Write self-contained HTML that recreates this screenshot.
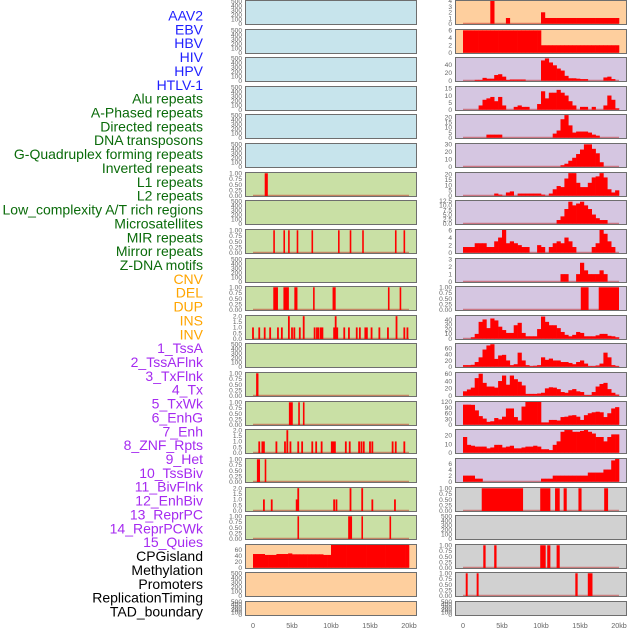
<!DOCTYPE html>
<html><head><meta charset="utf-8"><style>
html,body{margin:0;padding:0;background:#fff;}
svg{display:block;font-family:"Liberation Sans",sans-serif;}
</style></head><body>
<svg id="c" width="630" height="630" viewBox="0 0 630 630"></svg>
<script>
// ---------- labels ----------
const trackLabels = ["AAV2","EBV","HBV","HIV","HPV","HTLV-1","Alu repeats","A-Phased repeats","Directed repeats","DNA transposons","G-Quadruplex forming repeats","Inverted repeats","L1 repeats","L2 repeats","Low_complexity A/T rich regions","Microsatellites","MIR repeats","Mirror repeats","Z-DNA motifs","CNV","DEL","DUP","INS","INV","1_TssA","2_TssAFlnk","3_TxFlnk","4_Tx","5_TxWk","6_EnhG","7_Enh","8_ZNF_Rpts","9_Het","10_TssBiv","11_BivFlnk","12_EnhBiv","13_ReprPC","14_ReprPCWk","15_Quies","CPGisland","Methylation","Promoters","ReplicationTiming","TAD_boundary"];
const labelGroups = ["v","v","v","v","v","v","r","r","r","r","r","r","r","r","r","r","r","r","r","s","s","s","s","s","c","c","c","c","c","c","c","c","c","c","c","c","c","c","c","o","o","o","o","o"];
const xTickLabels = ["0","5kb","10kb","15kb","20kb"];
const xTickValues = [0,5,10,15,20];

// ---------- left column (spans in kb) ----------
const leftL1 = [[1.5,1.9]];
const leftMIR = [[2.6,2.8],[3.9,4.1],[4.5,4.7],[5.6,5.8],[7.5,7.7],[10.9,11.1],[12.4,12.6],[14.0,14.2],[18.2,18.4],[19.3,19.5]];
const leftDEL = [[2.6,3.2],[3.9,4.6],[5.3,5.7],[7.7,7.9],[10.2,10.6],[17.3,17.5],[18.8,19.0]];
const leftINSpos = [0.0,0.8,1.5,2.2,3.2,3.7,4.6,5.0,5.3,6.0,6.5,7.9,8.2,8.4,8.7,8.9,10.4,10.6,10.8,11.7,12.3,13.3,13.7,14.4,14.6,15.2,16.2,17.3,18.4,19.4,19.8];
const leftINSval = [1,1,1,1,1,1,2,1,1,1,2,1,1,1,1,1,1,2,1,1,1,1,1,1,1,1,1,1,2,1,1];
const leftTxFlnk = [[0.4,0.7]];
const leftTxWk = [[4.6,5.1],[5.8,6.0],[6.4,6.6]];
const leftEnhPos = [0.8,1.2,1.4,3.0,4.1,4.4,4.8,5.8,6.3,7.6,8.1,8.8,10.1,10.3,10.5,11.9,12.4,13.6,13.9,14.2,15.0,15.3,17.9,18.3,19.4];
const leftEnhVal = [1,1,1,1,1,2,1,1,1,1,1,1,1,1,1,1,1,1,1,1,1,1,1,1,1];
const leftHet = [[0.5,0.9],[1.5,1.7]];
const leftBivPos = [1.4,2.4,5.6,5.8,10.4,10.7,12.5,14.0,15.3,18.2];
const leftBivVal = [1,1,1,2,1,1,2,2,1,1];
const leftReprPC = [[5.7,5.9],[12.2,12.7],[13.9,14.1],[17.5,17.7]];
const leftCPG = [45,45,45,42,42,42,45,45,45,47,44,44,44,44,44,44,44,44,42,42,75,75,75,75,75,75,75,75,75,75,75,75,75,75,75,75,75,75,75,75];

// ---------- right column (0.5 kb bins) ----------
const rightAAV2 = [0,0,0,0,0,0,0,4,0,0,0,1,0,0,0,0,0,0,0,0,2,1,1,1,1,1,1,1,1,1,1,1,1,1,1,1,1,1,1,1];
const rightEBV = [6,6,6,6,6,6,6,6,6,6,6,6,6,6,6,6,6,6,6,6,2,2,2,2,2,2,2,2,2,2,2,2,2,2,2,2,2,2,2,2];
const rightHIV = [0,0,0,2,2,7,5,5,14,16,10,2,3,3,3,3,0,0,0,0,50,55,45,38,30,25,12,6,6,5,4,4,0,0,0,0,8,10,4,0];
const rightAlu = [0,0,0,0,3,7,8,9,6,9,3,0,0,2,3,2,2,0,0,4,13,8,12,12,14,12,10,6,3,0,2,2,0,2,0,0,3,10,7,1];
const rightDirected = [0,0,0,0,0,0,3,3,3,3,0,0,0,0,0,0,0,0,0,0,0,0,0,4,7,18,22,12,5,6,6,6,5,3,2,0,0,0,0,0];
const rightGQuad = [0,0,0,0,0,0,0,0,0,0,0,0,0,0,0,0,0,0,0,0,0,0,0,0,0,2,4,8,12,17,23,30,30,24,18,6,0,0,0,0];
const rightInverted = [0,0,0,0,0,0,0,0,2,1,0,3,4,0,2,2,2,2,2,2,1,0,2,6,9,8,16,21,21,12,8,8,12,17,18,21,17,6,3,5];
const rightLowComp = [0,0,0,0,0,0,0,0,0,0,0,0,0,0,0,0,0,0,0,0,0,0,0,0,2,4,8,12,10,11,12,10,8,5,3,2,2,0,0,0];
const rightMIR = [1.5,1.5,1.5,2.5,2.5,2.5,1.5,1.5,3,4,6,2.5,3,2.5,2,1.5,1.5,0,0,2,1.5,0,1.5,2.5,3,2.5,4,3,1.5,0,0,0,0,1.5,2.5,6,5,3,1.5,0];
const rightZDNA = [0,0,0,0,0,0,0,0,0,0,0,0,0,0,0,0,0,0,0,0,0,0,0,0,0,1,1,0,0,1,2.5,1.5,1,1,1,1.5,1,0,0,0];
const rightDEL = [[15.1,16.1],[17.4,20.0]];
const rightINS = [0,0,3,10,35,40,22,42,38,25,18,12,12,28,33,12,5,5,5,20,46,35,28,28,22,14,8,5,8,14,12,5,5,5,7,10,10,6,5,3];
const rightTssA = [5,5,6,15,30,55,68,72,25,36,38,20,5,8,45,20,5,2,3,5,30,22,26,20,20,15,15,12,8,15,20,10,2,2,4,10,45,30,5,2];
const rightTxFlnk = [12,17,22,48,60,35,25,25,22,40,55,30,55,45,38,28,5,5,5,6,8,20,23,22,18,10,8,15,18,12,10,2,2,10,25,32,35,18,8,3];
const rightTxWk = [105,105,104,75,45,32,15,18,35,28,42,85,85,40,22,95,120,120,120,120,12,12,25,25,22,40,42,48,50,42,25,50,60,65,68,65,40,60,85,92];
const rightEnh = [18,9,8,7,7,7,5,6,9,9,6,7,8,5,5,6,7,7,8,7,4,4,3,9,13,24,26,26,24,24,25,26,24,22,18,18,13,18,21,21];
const rightHet = [2,2,2,1,1,0,0,0,0,0,0,0,0,0,0,0,0,0,0,0,1,1,1,2,2,2,2,2,2,2,2,2,3,3,3,3,4,4,7,7.5];
const rightBivFlnk = [[2.4,7.7],[9.9,11.2],[11.8,12.4],[12.9,13.3],[14.8,15.2],[18.1,18.6]];
const rightCPG = [[2.6,2.9],[4.0,4.3],[9.9,10.6],[10.8,11.2],[12.0,12.4]];
const rightPromoters = [[0.35,0.6],[1.75,2.0],[14.4,14.7],[16.0,16.6]];

// ---------- tick sets ----------
const tEmpty = [0,100,200,300,400,500];
const tBin = [0,0.25,0.5,0.75,1];
const tTwo = [0,0.5,1,1.5,2];

const BLUE="#c7e4ec", GREEN="#c9e0a5", ORANGE="#fecf9e", PURPLE="#d5c6e1", GRAY="#d1d1d1";
const leftRows = [
 {bg:BLUE,ticks:tEmpty,max:510},{bg:BLUE,ticks:tEmpty,max:510},{bg:BLUE,ticks:tEmpty,max:510},
 {bg:BLUE,ticks:tEmpty,max:510},{bg:BLUE,ticks:tEmpty,max:510},{bg:BLUE,ticks:tEmpty,max:510},
 {bg:GREEN,ticks:tBin,max:1.03,spans:leftL1,name:"l1"},
 {bg:GREEN,ticks:tEmpty,max:510},
 {bg:GREEN,ticks:tBin,max:1.03,spans:leftMIR,name:"mir"},
 {bg:GREEN,ticks:tEmpty,max:510},
 {bg:GREEN,ticks:tBin,max:1.03,spans:leftDEL,name:"del"},
 {bg:GREEN,ticks:tTwo,max:2.05,pos:leftINSpos,val:leftINSval,name:"ins"},
 {bg:GREEN,ticks:tEmpty,max:510},
 {bg:GREEN,ticks:tBin,max:1.03,spans:leftTxFlnk,name:"txflnk"},
 {bg:GREEN,ticks:tBin,max:1.03,spans:leftTxWk,name:"txwk"},
 {bg:GREEN,ticks:tTwo,max:2.05,pos:leftEnhPos,val:leftEnhVal,name:"enh"},
 {bg:GREEN,ticks:tBin,max:1.03,spans:leftHet,name:"het"},
 {bg:GREEN,ticks:tTwo,max:2.05,pos:leftBivPos,val:leftBivVal,name:"bivflnk"},
 {bg:GREEN,ticks:tBin,max:1.03,spans:leftReprPC,name:"reprpc"},
 {bg:ORANGE,ticks:[0,20,40,60],max:76,bins:leftCPG,name:"cpgisland"},
 {bg:ORANGE,ticks:tEmpty,max:510},
 {bg:ORANGE,ticks:tEmpty,max:510}
];
const rightRows = [
 {bg:ORANGE,ticks:[0,1,2,3,4],max:4.05,bins:rightAAV2,name:"aav2"},
 {bg:ORANGE,ticks:[0,2,4,6],max:6.2,bins:rightEBV,name:"ebv"},
 {bg:PURPLE,ticks:[0,20,40],max:57,bins:rightHIV,name:"hiv"},
 {bg:PURPLE,ticks:[0,5,10,15],max:16.3,bins:rightAlu,name:"alu"},
 {bg:PURPLE,ticks:[0,5,10,15,20],max:22.5,bins:rightDirected,name:"directed"},
 {bg:PURPLE,ticks:[0,10,20,30],max:31,bins:rightGQuad,name:"gquad"},
 {bg:PURPLE,ticks:[0,5,10,15,20],max:21.5,bins:rightInverted,name:"inverted"},
 {bg:PURPLE,ticks:[0,2.5,5,7.5,10,12.5],max:12.6,bins:rightLowComp,name:"lowcomplexity",dec:1},
 {bg:PURPLE,ticks:[0,2,4,6],max:6.1,bins:rightMIR,name:"mir"},
 {bg:PURPLE,ticks:[0,1,2,3],max:3.05,bins:rightZDNA,name:"zdna"},
 {bg:PURPLE,ticks:tBin,max:1.03,spans:rightDEL,name:"del"},
 {bg:PURPLE,ticks:[0,10,20,30,40],max:48,bins:rightINS,name:"ins"},
 {bg:PURPLE,ticks:[0,20,40,60],max:74,bins:rightTssA,name:"tssa"},
 {bg:PURPLE,ticks:[0,20,40,60],max:63,bins:rightTxFlnk,name:"txflnk"},
 {bg:PURPLE,ticks:[0,30,60,90,120],max:121,bins:rightTxWk,name:"txwk"},
 {bg:PURPLE,ticks:[0,10,20],max:26.5,bins:rightEnh,name:"enh"},
 {bg:PURPLE,ticks:[0,2,4,6],max:7.6,bins:rightHet,name:"het"},
 {bg:GRAY,ticks:tBin,max:1.03,spans:rightBivFlnk,name:"bivflnk"},
 {bg:GRAY,ticks:tEmpty,max:510},
 {bg:GRAY,ticks:tBin,max:1.03,spans:rightCPG,name:"cpgisland"},
 {bg:GRAY,ticks:tBin,max:1.03,spans:rightPromoters,name:"promoters"},
 {bg:GRAY,ticks:tEmpty,max:510}
];

const NS="http://www.w3.org/2000/svg";
const svg=document.getElementById('c');
function mk(tag,attrs,parent){const e=document.createElementNS(NS,tag);for(const k in attrs)e.setAttribute(k,attrs[k]);(parent||svg).appendChild(e);return e;}

// labels
const groupColors={v:"#1f1fff",r:"#0a6b0a",s:"#ffa500",c:"#a52af0",o:"#000000"};
trackLabels.forEach((t,i)=>{
  const e=mk('text',{x:203,y:20.5+i*13.86,'text-anchor':'end','font-size':'14',fill:groupColors[labelGroups[i]]});
  e.textContent=t;
  
  
});

function rowTop(i){return Math.round(i*28.62);}
function rowH(i){return i===21?15:25;}

function fmt(v,ticks,dec){
  if(ticks===tBin) return v.toFixed(2);
  if(ticks===tTwo || dec) return v.toFixed(1);
  return String(v);
}

function drawPanel(col,i,row){
  const px = col===0?245:455, pw=172, x0 = col===0?253:463;
  const top=rowTop(i), h=rowH(i);
  const xs = kb=>x0+kb*7.8;
  const y0 = top+h-1.3, y1=top+0.6;
  const ys = v=>y0-(v/row.max)*(y0-y1);
  const g=mk('g',{});
  
  
  mk('rect',{x:px,y:top,width:pw,height:h,fill:row.bg},g);
  row.ticks.forEach(t=>{
    const tt=mk('text',{x:px-3,y:ys(t)+2.3,'text-anchor':'end','font-size':'6.6',fill:'#666'},g);
    tt.textContent=fmt(t,row.ticks,row.dec);
    
    
  });
  const hasData=row.bins||row.spans||row.pos;
  if(hasData){
    mk('line',{x1:xs(0),x2:xs(20),y1:y0,y2:y0,stroke:'rgba(190,20,20,0.45)','stroke-width':2},g);
  }
  if(row.bins){
    row.bins.forEach((v,b)=>{
      if(v<=0) return;
      const r=mk('rect',{x:xs(b*0.5),y:ys(v),width:xs((b+1)*0.5)-xs(b*0.5)+0.3,height:y0-ys(v),fill:'#ff0000'},g);
      
      
    });
  }
  if(row.spans){
    row.spans.forEach(s=>{
      const w=Math.max(xs(s[1])-xs(s[0]),1.6);
      const r=mk('rect',{x:xs(s[0]),y:ys(1),width:w,height:y0-ys(1)+0.8,fill:'#ff0000'},g);
      
      
    });
  }
  if(row.pos){
    row.pos.forEach((p,k)=>{
      const v=row.val[k];
      const r=mk('rect',{x:xs(p)-0.9,y:ys(v),width:1.8,height:y0-ys(v)+0.8,fill:'#ff0000'},g);
      
      
    });
  }
  mk('rect',{x:px+0.5,y:top+0.5,width:pw-1,height:h-1,fill:'none',stroke:'#6e6e6e','stroke-width':1},g);
}
leftRows.forEach((r,i)=>drawPanel(0,i,r));
rightRows.forEach((r,i)=>drawPanel(1,i,r));

// x axes
[253,463].forEach(x0=>{
  xTickValues.forEach((v,k)=>{
    const t=mk('text',{x:x0+v*7.8,y:628,'text-anchor':'middle','font-size':'7.2',fill:'#666'});
    t.textContent=xTickLabels[k];
    
    
  });
});
</script>
</body></html>
